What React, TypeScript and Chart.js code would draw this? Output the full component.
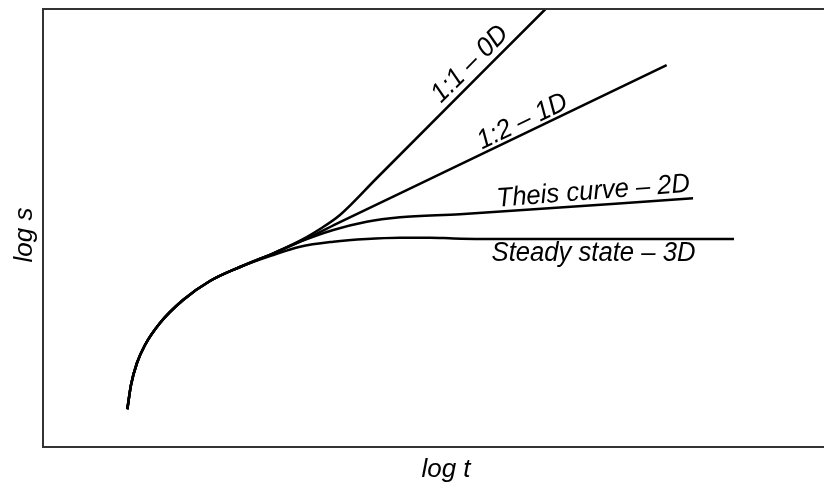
import React, { useEffect, useRef } from "react";
import { Chart, registerables } from "chart.js";

Chart.register(...registerables);

// Shared early-time part of all curves (log t, log s in arbitrary units 0..100)
const sharedT = [10.58, 11.04, 11.79, 12.8, 14.68, 17.57, 20.95, 24.72];
const sharedS = [8.61, 14.16, 19.18, 23.29, 28.31, 33.56, 37.9, 41.1];

// 1:1 – 0D
const zeroDT = [28.9, 33.09, 34.76, 37.26, 41.86, 63.05];
const zeroDS = [44.22, 47.95, 49.77, 52.97, 61.36, 100];
// 1:2 – 1D
const oneDT = [28.9, 33.09, 37.26, 44.79, 78.25];
const oneDS = [44.22, 47.6, 51.35, 57.92, 87.21];
// Theis curve – 2D
const theisT = [28.9, 32.25, 36.42, 40.61, 44.79, 52.32, 81.56];
const theisS = [44.22, 46.87, 49.54, 51.44, 52.44, 53.13, 56.78];
// Steady state – 3D
const steadyT = [28.9, 32.25, 36.42, 40.61, 44.79, 48.56, 51.5, 55.0, 86.7];
const steadyS = [43.84, 45.73, 46.87, 47.5, 47.78, 47.8, 47.6, 47.5, 47.5];

const curveLabels = ["1:1 – 0D", "1:2 – 1D", "Theis curve – 2D", "Steady state – 3D"];
const xTitle = "log t";
const yTitle = "log s";

const FONT = '"Liberation Sans", Arial, sans-serif';

function pts(tA: number[], sA: number[]) {
  const all = [...sharedT.map((t, i) => ({ x: t, y: sharedS[i] }))];
  tA.forEach((t, i) => all.push({ x: t, y: sA[i] }));
  return all;
}

const labelPlacement = [
  { x: 53.58, y: 87.4, angle: -45 },
  { x: 60.16, y: 74.27, angle: -25.6 },
  { x: 69.05, y: 58.29, angle: -4.5 },
  { x: 69.07, y: 44.29, angle: 0 },
];

const decorPlugin = {
  id: "decor",
  afterDatasetsDraw(chart: any) {
    const { ctx, chartArea, scales } = chart;
    ctx.save();
    // frame (its right edge lies beyond the visible page)
    ctx.strokeStyle = "#333";
    ctx.lineWidth = 2;
    ctx.beginPath();
    ctx.moveTo(chartArea.right + 10, chartArea.top);
    ctx.lineTo(chartArea.left, chartArea.top);
    ctx.lineTo(chartArea.left, chartArea.bottom);
    ctx.lineTo(chartArea.right + 10, chartArea.bottom);
    ctx.stroke();
    // curve labels
    ctx.fillStyle = "#000";
    ctx.font = `italic 27px ${FONT}`;
    ctx.textAlign = "center";
    ctx.textBaseline = "middle";
    curveLabels.forEach((txt, i) => {
      const p = labelPlacement[i];
      const px = scales.x.getPixelForValue(p.x);
      const py = scales.y.getPixelForValue(p.y);
      ctx.save();
      ctx.translate(px, py);
      ctx.rotate((p.angle * Math.PI) / 180);
      ctx.scale(0.95, 1);
      ctx.fillText(txt, 0, 0);
      ctx.restore();
    });
    // axis titles
    ctx.font = `italic 26px ${FONT}`;
    ctx.fillText(xTitle, 438, 462);
    ctx.save();
    ctx.translate(17, 227);
    ctx.rotate(-Math.PI / 2);
    ctx.fillText(yTitle, 0, 0);
    ctx.restore();
    ctx.restore();
  },
};

export default function App() {
  const ref = useRef<HTMLCanvasElement>(null);
  useEffect(() => {
    if (!ref.current) return;
    const mk = (data: any[]) => ({
      data,
      borderColor: "#000",
      borderWidth: 2.5,
      pointRadius: 0,
      showLine: true,
      fill: false,
      cubicInterpolationMode: "monotone" as const,
    });
    const chart = new Chart(ref.current, {
      type: "scatter",
      data: {
        datasets: [
          mk(pts(zeroDT, zeroDS)),
          mk(pts(oneDT, oneDS)),
          mk(pts(theisT, theisS)),
          mk(pts(steadyT, steadyS)),
        ],
      },
      options: {
        animation: false,
        responsive: false,
        layout: { padding: { left: 35, top: 1, right: 0, bottom: 37 } },
        plugins: { legend: { display: false }, tooltip: { enabled: false } },
        scales: {
          x: { type: "linear", min: 0, max: 100, display: false },
          y: { type: "linear", min: 0, max: 100, display: false },
        },
      },
      plugins: [decorPlugin],
    });
    return () => chart.destroy();
  }, []);
  return (
    <div style={{ position: "fixed", left: 8, top: 8, width: 816, height: 476, overflow: "hidden" }}>
      <canvas ref={ref} width={832} height={476} style={{ display: "block", width: 832, height: 476 }} />
    </div>
  );
}
